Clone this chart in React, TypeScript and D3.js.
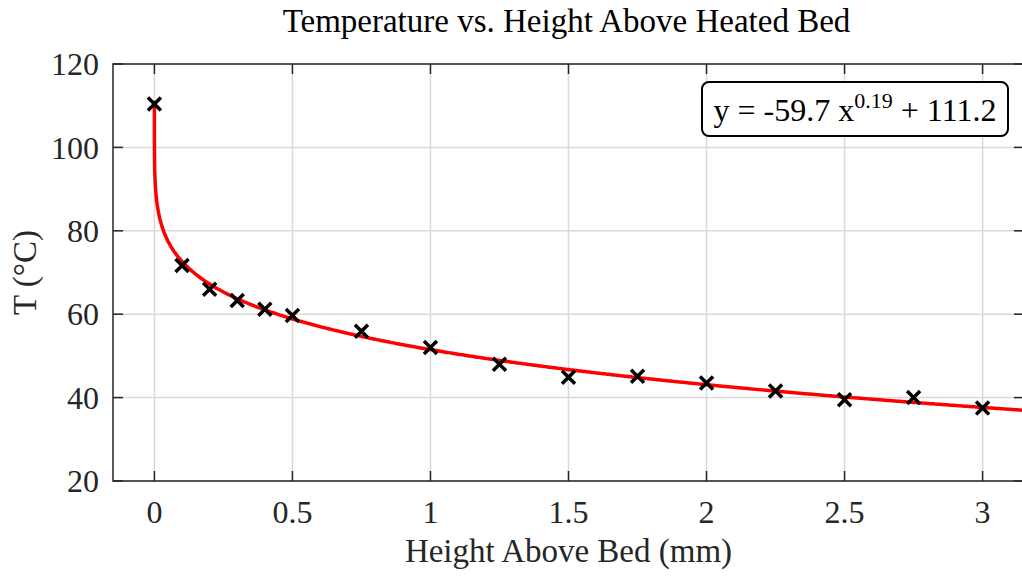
import React, { useEffect, useRef } from 'react';
import * as d3 from 'd3';

// measured points (height above bed in mm, temperature in °C)
const heights = [0, 0.1, 0.2, 0.3, 0.4, 0.5, 0.75, 1, 1.25, 1.5, 1.75, 2, 2.25, 2.5, 2.75, 3];
const temps = [110.4, 71.7, 66.0, 63.3, 61.2, 59.7, 55.9, 52.0, 48.0, 44.9, 45.1, 43.5, 41.6, 39.5, 40.0, 37.5];

// power-law fit shown in the annotation
const fitA = -59.7;
const fitB = 0.19;
const fitC = 111.2;

const xTicks = [0, 0.5, 1, 1.5, 2, 2.5, 3];
const yTicks = [20, 40, 60, 80, 100, 120];

const titleText = 'Temperature vs. Height Above Heated Bed';
const xLabel = 'Height Above Bed (mm)';
const yLabel = 'T (°C)';

const W = 1022;
const H = 577;
const font = '"Liberation Serif", "Times New Roman", serif';
const axisColor = '#262626';

export default function App() {
  const svgRef = useRef<SVGSVGElement>(null);

  useEffect(() => {
    if (!svgRef.current) return;
    const svg = d3.select(svgRef.current);
    svg.selectAll('*').remove();

    const left = 113;
    const right = 1024;
    const top = 64;
    const bottom = 481;

    const x = d3.scaleLinear().domain([-0.15, 3.15]).range([left, right]);
    const y = d3.scaleLinear().domain([20, 120]).range([bottom, top]);

    const g = svg.append('g');

    // grid
    g.selectAll('.gx')
      .data(xTicks)
      .enter()
      .append('line')
      .attr('x1', d => x(d))
      .attr('x2', d => x(d))
      .attr('y1', top)
      .attr('y2', bottom)
      .attr('stroke', '#d9d9d9')
      .attr('stroke-width', 1.5);
    g.selectAll('.gy')
      .data(yTicks)
      .enter()
      .append('line')
      .attr('x1', left)
      .attr('x2', right)
      .attr('y1', d => y(d))
      .attr('y2', d => y(d))
      .attr('stroke', '#d9d9d9')
      .attr('stroke-width', 1.5);

    // fit curve
    const xsFit = d3.range(0, 0.02, 0.0001).concat(d3.range(0.02, 3.16, 0.005));
    const line = d3.line<number>()
      .x(d => x(d))
      .y(d => y(fitA * Math.pow(d, fitB) + fitC));
    svg.append('defs').append('clipPath').attr('id', 'plotclip')
      .append('rect').attr('x', left).attr('y', top).attr('width', right - left).attr('height', bottom - top);
    g.append('path')
      .datum(xsFit)
      .attr('d', line)
      .attr('fill', 'none')
      .attr('stroke', '#ff0000')
      .attr('stroke-width', 3.5)
      .attr('clip-path', 'url(#plotclip)');

    // markers
    const pts = heights.map((h, i) => ({ h, t: temps[i] }));
    const s = 6.5;
    g.selectAll('.mk')
      .data(pts)
      .enter()
      .append('path')
      .attr('d', d => {
        const cx = x(d.h);
        const cy = y(d.t);
        return `M${cx - s},${cy - s}L${cx + s},${cy + s}M${cx - s},${cy + s}L${cx + s},${cy - s}`;
      })
      .attr('stroke', '#000')
      .attr('stroke-width', 3.5)
      .attr('fill', 'none');

    // axes box
    const tickLen = 10;
    g.append('rect')
      .attr('x', left)
      .attr('y', top)
      .attr('width', right - left)
      .attr('height', bottom - top)
      .attr('fill', 'none')
      .attr('stroke', axisColor)
      .attr('stroke-width', 1.5);

    xTicks.forEach(t => {
      g.append('line').attr('x1', x(t)).attr('x2', x(t)).attr('y1', bottom).attr('y2', bottom - tickLen)
        .attr('stroke', axisColor).attr('stroke-width', 1.5);
      g.append('line').attr('x1', x(t)).attr('x2', x(t)).attr('y1', top).attr('y2', top + tickLen)
        .attr('stroke', axisColor).attr('stroke-width', 1.5);
    });
    yTicks.forEach(t => {
      g.append('line').attr('x1', left).attr('x2', left + tickLen).attr('y1', y(t)).attr('y2', y(t))
        .attr('stroke', axisColor).attr('stroke-width', 1.5);
      g.append('line').attr('x1', right).attr('x2', right - tickLen).attr('y1', y(t)).attr('y2', y(t))
        .attr('stroke', axisColor).attr('stroke-width', 1.5);
    });

    // tick labels
    g.selectAll('.xl')
      .data(xTicks)
      .enter()
      .append('text')
      .attr('x', d => x(d))
      .attr('y', 523)
      .attr('text-anchor', 'middle')
      .attr('font-family', font)
      .attr('font-size', 32)
      .attr('fill', axisColor)
      .text(d => String(d));
    g.selectAll('.yl')
      .data(yTicks)
      .enter()
      .append('text')
      .attr('x', 99)
      .attr('y', d => y(d))
      .attr('dy', '0.35em')
      .attr('text-anchor', 'end')
      .attr('font-family', font)
      .attr('font-size', 32)
      .attr('fill', axisColor)
      .text(d => String(d));

    // labels
    g.append('text')
      .attr('x', (left + right) / 2)
      .attr('y', 562)
      .attr('text-anchor', 'middle')
      .attr('font-family', font)
      .attr('font-size', 33)
      .attr('fill', axisColor)
      .text(xLabel);
    g.append('text')
      .attr('transform', `translate(36,${(top + bottom) / 2}) rotate(-90)`)
      .attr('text-anchor', 'middle')
      .attr('font-family', font)
      .attr('font-size', 33)
      .attr('fill', axisColor)
      .text(yLabel);
    g.append('text')
      .attr('x', (left + right) / 2 - 2)
      .attr('y', 32)
      .attr('text-anchor', 'middle')
      .attr('font-family', font)
      .attr('font-size', 33)
      .attr('fill', '#000')
      .text(titleText);

    // equation box
    g.append('rect')
      .attr('x', 702)
      .attr('y', 82)
      .attr('width', 306)
      .attr('height', 54)
      .attr('rx', 7)
      .attr('fill', '#fff')
      .attr('stroke', '#000')
      .attr('stroke-width', 2);
    const eq = g.append('text')
      .attr('x', 855)
      .attr('y', 121)
      .attr('text-anchor', 'middle')
      .attr('font-family', font)
      .attr('font-size', 32)
      .attr('fill', '#000');
    eq.append('tspan').text(`y = ${fitA} x`);
    eq.append('tspan').attr('dy', -13).attr('font-size', 22).text(String(fitB));
    eq.append('tspan').attr('dy', 13).text(` + ${fitC}`);
  }, []);

  return (
    <svg
      ref={svgRef}
      width={W}
      height={H}
      style={{ position: 'absolute', left: 0, top: 0, background: '#fff', display: 'block' }}
    />
  );
}
